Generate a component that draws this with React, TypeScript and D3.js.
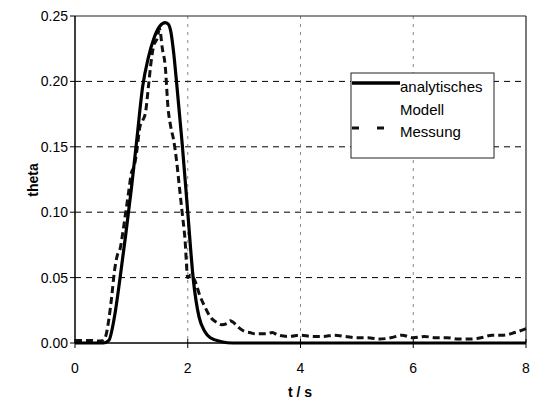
import React from "react";
import * as d3 from "d3";

// analytisches Modell (t in s, theta)
const modelT = [0, 0.5, 0.6, 0.7, 0.8, 0.9, 1.0, 1.1, 1.2, 1.3, 1.4, 1.5, 1.6, 1.65, 1.7, 1.75, 1.8, 1.9, 2.0, 2.1, 2.2, 2.3, 2.4, 2.6, 2.8, 8];
const modelTheta = [0, 0, 0.002, 0.02, 0.05, 0.083, 0.118, 0.157, 0.196, 0.218, 0.233, 0.242, 0.245, 0.244, 0.238, 0.222, 0.2, 0.153, 0.1, 0.048, 0.02, 0.009, 0.004, 0.001, 0, 0];

// Messung
const measT = [0, 0.1, 0.2, 0.3, 0.4, 0.5, 0.55, 0.6, 0.65, 0.7, 0.75, 0.8, 0.85, 0.9, 0.95, 1.0, 1.05, 1.1, 1.15, 1.2, 1.25, 1.3, 1.35, 1.4, 1.45, 1.5, 1.55, 1.6, 1.65, 1.7, 1.75, 1.8, 1.85, 1.9, 1.95, 2.0, 2.05, 2.1, 2.15, 2.2, 2.3, 2.4, 2.5, 2.6, 2.7, 2.75, 2.8, 2.9, 3.0, 3.1, 3.2, 3.4, 3.5, 3.6, 3.8, 4.0, 4.2, 4.4, 4.6, 4.8, 5.0, 5.2, 5.4, 5.6, 5.8, 6.0, 6.2, 6.4, 6.6, 6.8, 7.0, 7.2, 7.4, 7.6, 7.8, 8.0];
const measTheta = [0.002, 0.002, 0.002, 0.002, 0.0015, 0.002, 0.006, 0.018, 0.035, 0.055, 0.067, 0.072, 0.085, 0.1, 0.115, 0.13, 0.135, 0.148, 0.165, 0.17, 0.176, 0.195, 0.215, 0.228, 0.232, 0.24, 0.225, 0.212, 0.18, 0.165, 0.155, 0.14, 0.12, 0.1, 0.08, 0.05, 0.052, 0.05, 0.045, 0.038, 0.028, 0.02, 0.016, 0.014, 0.015, 0.017, 0.016, 0.012, 0.009, 0.008, 0.007, 0.007, 0.008, 0.006, 0.005, 0.006, 0.005, 0.005, 0.006, 0.005, 0.004, 0.004, 0.003, 0.004, 0.006, 0.004, 0.005, 0.004, 0.004, 0.003, 0.003, 0.004, 0.006, 0.006, 0.008, 0.011];

const xTicks = [0, 2, 4, 6, 8];
const yTicks = [0, 0.05, 0.1, 0.15, 0.2, 0.25];
const legendLabels = ["analytisches", "Modell", "Messung"];

const W = 539;
const H = 407;
const margin = { left: 75, right: 13, top: 16, bottom: 64 };

export default function App() {
  const x = d3.scaleLinear().domain([0, 8]).range([margin.left, W - margin.right]);
  const y = d3.scaleLinear().domain([0, 0.25]).range([H - margin.bottom, margin.top]);

  const line = d3
    .line<[number, number]>()
    .x((d) => x(d[0]))
    .y((d) => y(d[1]))
    .curve(d3.curveMonotoneX);

  const model = modelT.map((t, i) => [t, modelTheta[i]] as [number, number]);
  const meas = measT.map((t, i) => [t, measTheta[i]] as [number, number]);

  const font = "'Liberation Sans', Arial, sans-serif";
  const x0 = x(0), x1 = x(8), yb = y(0), yt = y(0.25);

  return (
    <svg width={W} height={H} style={{ position: "absolute", left: 0, top: 0, background: "#fff" }} fontFamily={font}>
      {/* horizontal grid */}
      {yTicks.filter((v) => v > 0 && v < 0.25).map((v) => (
        <line key={"h" + v} x1={x0} x2={x1} y1={y(v)} y2={y(v)} stroke="#000" strokeWidth={1} strokeDasharray="6,5" />
      ))}
      {/* vertical grid */}
      {xTicks.filter((v) => v > 0 && v < 8).map((v) => (
        <line key={"v" + v} x1={x(v)} x2={x(v)} y1={yt} y2={yb} stroke="#666" strokeWidth={0.8} strokeDasharray="3,5" />
      ))}
      {/* frame */}
      <line x1={x0} x2={x1} y1={yt} y2={yt} stroke="#222" strokeWidth={1.2} />
      <line x1={x1} x2={x1} y1={yt} y2={yb} stroke="#222" strokeWidth={1.2} />
      <line x1={x0} x2={x0} y1={yt} y2={yb} stroke="#000" strokeWidth={1.5} />
      <line x1={x0} x2={x1} y1={yb} y2={yb} stroke="#000" strokeWidth={1.5} />

      {/* ticks */}
      {xTicks.map((v) => (
        <g key={"xt" + v}>
          <line x1={x(v)} x2={x(v)} y1={yb - 4} y2={yb + 5} stroke="#000" strokeWidth={1} />
          <text x={x(v)} y={yb + 30} fontSize={14} textAnchor="middle">{v}</text>
        </g>
      ))}
      {yTicks.map((v) => (
        <g key={"yt" + v}>
          <line x1={x0 - 5} x2={x0} y1={y(v)} y2={y(v)} stroke="#000" strokeWidth={1} />
          <text x={x0 - 7} y={y(v) + 5} fontSize={14} textAnchor="end">{v.toFixed(2)}</text>
        </g>
      ))}

      {/* series */}
      <path d={line(meas) || ""} fill="none" stroke="#111" strokeWidth={3} strokeDasharray="7,4" />
      <path d={line(model) || ""} fill="none" stroke="#000" strokeWidth={3.2} />

      {/* axis titles */}
      <text x={300} y={397} fontSize={14} fontWeight="bold" textAnchor="middle">t / s</text>
      <text transform="translate(38,180) rotate(-90)" fontSize={14} fontWeight="bold" textAnchor="middle">theta</text>

      {/* legend */}
      <rect x={351} y={73} width={143} height={85} fill="#fff" stroke="#222" strokeWidth={1} />
      <line x1={352} x2={400} y1={83} y2={83} stroke="#000" strokeWidth={3.5} />
      <text x={400} y={92} fontSize={15}>{legendLabels[0]}</text>
      <text x={400} y={115} fontSize={15}>{legendLabels[1]}</text>
      <line x1={352} x2={392} y1={128} y2={128} stroke="#111" strokeWidth={3} strokeDasharray="7,18" />
      <text x={400} y={137} fontSize={15}>{legendLabels[2]}</text>
    </svg>
  );
}
